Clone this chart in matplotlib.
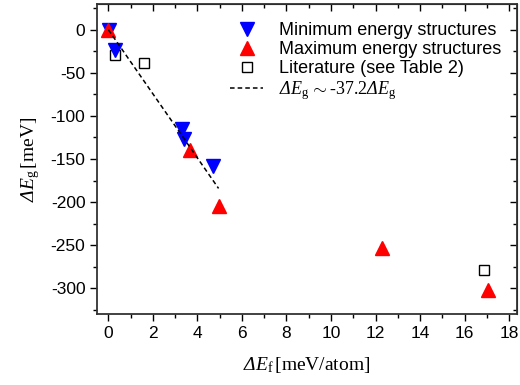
import numpy as np
import matplotlib
matplotlib.use("Agg")
import matplotlib.pyplot as plt
from matplotlib.ticker import MultipleLocator

plt.rcParams['font.family'] = ['Liberation Sans', 'DejaVu Sans']
plt.rcParams['axes.unicode_minus'] = False
plt.rcParams['mathtext.fontset'] = 'custom'
plt.rcParams['mathtext.rm'] = 'Liberation Serif'
plt.rcParams['mathtext.it'] = 'Liberation Serif:italic'
plt.rcParams['mathtext.sf'] = 'Liberation Serif:italic'  # italic Delta

# minimum energy structures
min_x = [0.03, 0.28, 3.32, 3.39, 4.71]
min_y = [0, -23, -115, -127, -158]
# maximum energy structures
max_x = [0.0, 3.66, 4.99, 12.29, 17.04]
max_y = [0, -139, -204, -253, -302]
# literature
lit_x = [0.3, 1.6, 16.89]
lit_y = [-29, -39, -279]
# fit
slope = -37.2
fit_x = np.array([0.0, 4.95])

fig = plt.figure(figsize=(5.2, 3.85), dpi=100)
ax = fig.add_axes([0.187, 0.184, 0.807, 0.806])

ax.plot(min_x, min_y, 'v', color='blue', ms=10, label='Minimum energy structures', zorder=3)
ax.plot(max_x, max_y, '^', color='red', ms=10, label='Maximum energy structures', zorder=3)
ax.plot(lit_x, lit_y, 's', mfc='white', mec='black', mew=1.0, ms=7.5, label='Literature (see Table 2)', zorder=2)
ax.plot(fit_x, slope * fit_x, '--', color='black', lw=1.1, dashes=(3, 2),
        label=r'$\mathsf{ΔE}_{\rm g}\,\sim\text{-37.2}\mathsf{ΔE}_{\rm g}$', zorder=4)

ax.set_xlim(-0.5, 18.35)
ax.set_ylim(-330, 30)
ax.xaxis.set_major_locator(MultipleLocator(2))
ax.xaxis.set_minor_locator(MultipleLocator(1))
ax.yaxis.set_major_locator(MultipleLocator(50))
ax.yaxis.set_minor_locator(MultipleLocator(25))
ax.tick_params(which='major', direction='out', length=5, width=1, labelsize=12.5)
ax.tick_params(which='minor', direction='out', length=3, width=1)
for s in ax.spines.values():
    s.set_linewidth(1.3)
    s.set_color('#333333')

top = ax.secondary_xaxis('top')
top.xaxis.set_major_locator(MultipleLocator(2))
top.xaxis.set_minor_locator(MultipleLocator(1))
top.tick_params(which='major', direction='in', length=5, width=1, labeltop=False)
top.tick_params(which='minor', direction='in', length=3, width=1)
right = ax.secondary_yaxis('right')
right.yaxis.set_major_locator(MultipleLocator(50))
right.yaxis.set_minor_locator(MultipleLocator(25))
right.tick_params(which='major', direction='in', length=5, width=1, labelright=False)
right.tick_params(which='minor', direction='in', length=3, width=1)

ax.set_xlabel(r'$\mathsf{ΔE}_{\rm f}\,\mathrm{[meV/atom]}$', fontsize=14, labelpad=10)
ax.set_ylabel(r'$\mathsf{ΔE}_{\rm g}\,\mathrm{[meV]}$', fontsize=14, labelpad=6)

leg = ax.legend(loc='upper left', frameon=False, fontsize=13, handlelength=1.8,
                handletextpad=0.9, labelspacing=0.1, borderaxespad=0, borderpad=0,
                bbox_to_anchor=(0.317, 0.94))

fig.savefig('out.png', dpi=100)
